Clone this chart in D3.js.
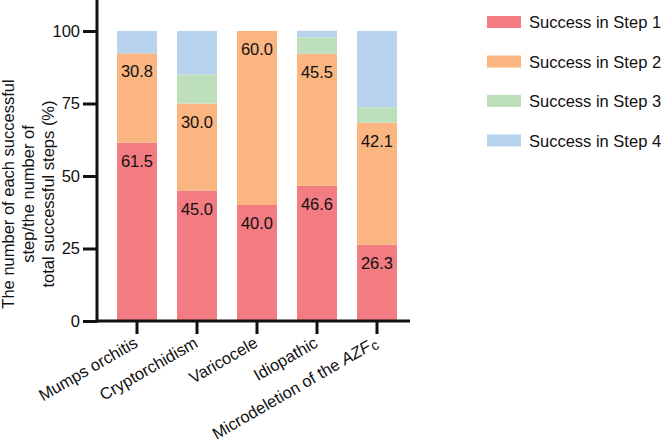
<!DOCTYPE html>
<html>
<head>
<meta charset="utf-8">
<script src="https://cdn.jsdelivr.net/npm/d3@7"></script>
<style>
  body{margin:0;background:#fff;}
  text{font-family:Arial,"Liberation Sans",sans-serif;}
</style>
</head>
<body>
<svg id="chart" width="662" height="446"></svg>
<script>
// datos
const categories = ["Mumps orchitis","Cryptorchidism","Varicocele","Idiopathic","Microdeletion of the AZFc"];
const step1 = [61.5, 45.0, 40.0, 46.6, 26.3];
const step2 = [30.8, 30.0, 60.0, 45.5, 42.1];
const step3 = [0.0, 10.0, 0.0, 5.7, 5.3];
const step4 = [7.7, 15.0, 0.0, 2.3, 26.3];
const seriesNames = ["Success in Step 1","Success in Step 2","Success in Step 3","Success in Step 4"];
const colors = ["#f27c81","#fab581","#bedfbb","#b8d3ee"];
const yTicks = [0,25,50,75,100];

const svg = d3.select('#chart');
const fs = 16.5;
const x0 = 97, y0 = 321, yTop = 31;

const rows = categories.map((c,i)=>({cat:c, s1:step1[i], s2:step2[i], s3:step3[i], s4:step4[i]}));
const keys = ['s1','s2','s3','s4'];
const stacked = d3.stack().keys(keys)(rows);

const x = d3.scaleBand()
  .domain(categories)
  .range([107,407])
  .paddingInner(1/3)
  .paddingOuter(1/6);
const y = d3.scaleLinear().domain([0,100]).range([y0,yTop]);

// barras
svg.selectAll('.serie')
  .data(stacked)
  .join('g')
    .classed('serie',true)
    .attr('fill',(d,i)=>colors[i])
  .selectAll('rect')
  .data(d=>d)
  .join('rect')
    .attr('x',d=>x(d.data.cat))
    .attr('width',x.bandwidth())
    .attr('y',d=>y(d[1]))
    .attr('height',d=>y(d[0])-y(d[1]));

// etiquetas de step 1 y 2
stacked.slice(0,2).forEach(s=>{
  svg.selectAll(null)
    .data(s.filter(d=>d[1]-d[0]>0))
    .join('text')
      .attr('x',d=>x(d.data.cat)+x.bandwidth()/2)
      .attr('y',d=>y(d[1])+24)
      .attr('text-anchor','middle')
      .attr('font-size',fs)
      .attr('fill','#111')
      .text(d=>(d[1]-d[0]).toFixed(1));
});

// eje y
const yAxis = svg.append('g')
  .attr('transform',`translate(${x0},0)`)
  .call(d3.axisLeft(y).tickValues(yTicks).tickSize(14).tickSizeOuter(0).tickPadding(3));
yAxis.select('.domain').remove();
yAxis.selectAll('line').attr('stroke','#111').attr('stroke-width',3);
yAxis.selectAll('text').attr('font-size',fs).attr('fill','#111').attr('font-family','Arial,"Liberation Sans",sans-serif');
svg.append('line').attr('x1',x0).attr('x2',x0).attr('y1',0).attr('y2',y0+1.5)
  .attr('stroke','#111').attr('stroke-width',3);

// eje x
const xAxis = svg.append('g')
  .attr('transform',`translate(0,${y0})`)
  .call(d3.axisBottom(x).tickSize(13).tickSizeOuter(0));
xAxis.select('.domain').remove();
xAxis.selectAll('line').attr('stroke','#111').attr('stroke-width',3);
xAxis.selectAll('text').remove();
svg.append('line').attr('x1',x0-1.5).attr('x2',410).attr('y1',y0).attr('y2',y0)
  .attr('stroke','#111').attr('stroke-width',3);

const xl = svg.selectAll('.xlab')
  .data(categories)
  .join('text')
    .classed('xlab',true)
    .attr('text-anchor','end')
    .attr('font-size',fs)
    .attr('fill','#111')
    .attr('transform',d=>`translate(${x(d)+x.bandwidth()/2+2},${y0+25}) rotate(-30)`);
xl.each(function(d){
  const t = d3.select(this);
  if(d.endsWith('AZFc')){
    t.append('tspan').text('Microdeletion of the ');
    t.append('tspan').attr('font-style','italic').text('AZF');
    t.append('tspan').attr('font-size',fs*0.85).attr('dx',1).attr('dy',2).text('c');
  } else t.text(d);
});

// titulo eje y
const yTitle = ["The number of each successful","step/the number of","total successful steps (%)"];
svg.selectAll('.ytitle')
  .data(yTitle)
  .join('text')
    .classed('ytitle',true)
    .attr('text-anchor','middle')
    .attr('font-size',fs)
    .attr('fill','#111')
    .attr('transform',(d,i)=>`translate(${14+i*20},194) rotate(-90)`)
    .text(d=>d);

// leyenda
const leg = svg.selectAll('.leg')
  .data(seriesNames)
  .join('g')
    .classed('leg',true)
    .attr('transform',(d,i)=>`translate(487,${22+i*39.5})`);
leg.append('rect').attr('x',0).attr('y',-6).attr('width',34).attr('height',12).attr('fill',(d,i)=>colors[i]);
leg.append('text').attr('x',42).attr('y',6).attr('font-size',fs).attr('fill','#111').text(d=>d);
</script>
</body>
</html>
